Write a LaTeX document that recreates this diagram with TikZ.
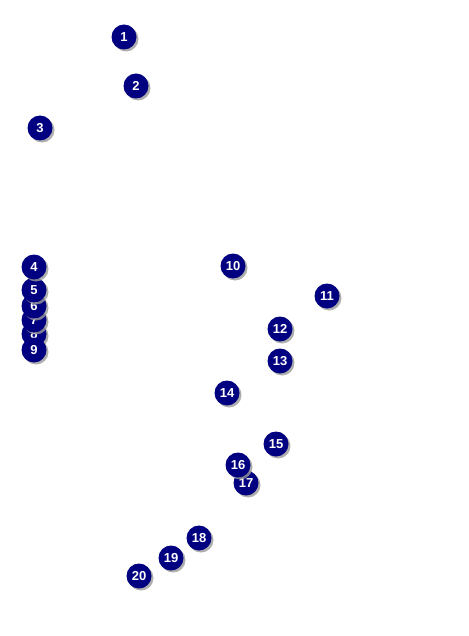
\documentclass[tikz,border=0pt]{standalone}
\usepackage{fontspec}
\setsansfont{Liberation Sans}
\usetikzlibrary{shadows}
\definecolor{markerFill}{HTML}{000080}
\definecolor{markerShade}{HTML}{9A9A9A}

\begin{document}
\begin{tikzpicture}[x=1pt,y=-1pt,
    marker/.style={circle,fill=markerFill,draw=none,minimum size=25pt,inner sep=0pt,
                   text=white,font=\sffamily\bfseries\fontsize{13pt}{13pt}\selectfont,
                   drop shadow={shadow xshift=2pt,shadow yshift=-2pt,fill=markerShade,opacity=0.8}}]
  \useasboundingbox (0,0) rectangle (468,636);
  % markers, drawn back to front
  \foreach \n/\px/\py in {20/139/576, 19/171/558, 18/199/538,
                          17/246/483, 16/238/465, 15/276/444,
                          14/227/393, 13/280/361, 12/280/329, 11/327/296, 10/233/266,
                          8/34/334, 9/34/350, 7/34/320, 6/34/306, 5/34/290, 4/34/267,
                          3/40/128, 2/136/86, 1/124/37}
    \node[marker] (m\n) at (\px,\py) {\n};
\end{tikzpicture}
\end{document}
